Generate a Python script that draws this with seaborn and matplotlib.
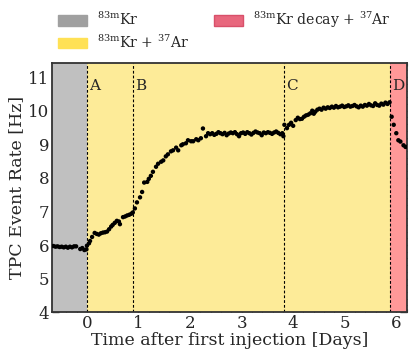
import numpy as np
import pandas as pd
import matplotlib
matplotlib.use("Agg")
import matplotlib.pyplot as plt
import matplotlib.patches as mpatches
import seaborn as sns

# event rate samples (days, Hz)
kr_only_days = [-0.65, -0.61, -0.57, -0.53, -0.49, -0.45, -0.41, -0.37, -0.33, -0.29,
                -0.25, -0.21, -0.13, -0.09, -0.05, -0.01]
kr_only_rate = [5.97, 5.95, 5.96, 5.94, 5.95, 5.93, 5.95, 5.92, 5.95, 5.93,
                5.96, 5.96, 5.88, 5.91, 5.85, 5.87]

ab_days = [0.00, 0.04, 0.06, 0.10, 0.15, 0.19, 0.23, 0.27, 0.31, 0.35, 0.39, 0.43,
           0.47, 0.50, 0.54, 0.58, 0.62, 0.64, 0.70, 0.74, 0.78, 0.82, 0.86]
ab_rate = [5.98, 6.05, 6.12, 6.24, 6.36, 6.33, 6.31, 6.35, 6.37, 6.38, 6.40, 6.47,
           6.55, 6.60, 6.66, 6.72, 6.70, 6.62, 6.83, 6.85, 6.88, 6.90, 6.93]

bc_days = [0.89, 0.93, 0.97, 1.03, 1.07, 1.11, 1.17, 1.20, 1.24, 1.28, 1.34, 1.38,
           1.44, 1.48, 1.53, 1.57, 1.63, 1.67, 1.73, 1.77, 1.83, 1.86, 1.92, 1.96,
           2.02, 2.06, 2.12, 2.16, 2.21, 2.25, 2.31, 2.35, 2.39, 2.43, 2.47, 2.51,
           2.55, 2.59, 2.63, 2.67, 2.71, 2.75, 2.79, 2.83, 2.87, 2.91, 2.95, 2.99,
           3.03, 3.07, 3.11, 3.15, 3.19, 3.23, 3.27, 3.31, 3.35, 3.39, 3.43, 3.47,
           3.51, 3.55, 3.59, 3.63, 3.67, 3.71, 3.75, 3.79]
bc_rate = [6.97, 7.09, 7.27, 7.42, 7.58, 7.86, 7.88, 7.97, 8.06, 8.18, 8.33, 8.42,
           8.48, 8.52, 8.64, 8.70, 8.79, 8.82, 8.90, 8.82, 8.97, 9.00, 9.03, 9.12,
           9.09, 9.09, 9.15, 9.12, 9.18, 9.47, 9.24, 9.33, 9.30, 9.33, 9.28, 9.31,
           9.36, 9.33, 9.30, 9.34, 9.27, 9.32, 9.35, 9.33, 9.36, 9.30, 9.24, 9.33,
           9.35, 9.31, 9.36, 9.33, 9.29, 9.34, 9.38, 9.35, 9.33, 9.27, 9.35, 9.33,
           9.36, 9.34, 9.31, 9.35, 9.38, 9.34, 9.30, 9.33]

cd_days = [3.81, 3.83, 3.88, 3.92, 3.96, 4.00, 4.05, 4.09, 4.13, 4.17, 4.21, 4.25,
           4.29, 4.33, 4.37, 4.40, 4.43, 4.47, 4.51, 4.55, 4.59, 4.63, 4.67, 4.71,
           4.75, 4.79, 4.83, 4.87, 4.91, 4.95, 4.99, 5.03, 5.07, 5.11, 5.15, 5.19,
           5.23, 5.27, 5.31, 5.35, 5.39, 5.43, 5.47, 5.51, 5.55, 5.59, 5.63, 5.67,
           5.71, 5.75, 5.79, 5.83, 5.87]
cd_rate = [9.24, 9.58, 9.48, 9.58, 9.64, 9.55, 9.72, 9.79, 9.75, 9.76, 9.82, 9.86,
           9.88, 9.92, 10.00, 9.91, 9.97, 10.03, 10.06, 10.03, 10.09, 10.06, 10.10, 10.08,
           10.12, 10.09, 10.14, 10.10, 10.12, 10.15, 10.11, 10.13, 10.16, 10.12, 10.14, 10.17,
           10.13, 10.10, 10.15, 10.12, 10.17, 10.15, 10.20, 10.16, 10.14, 10.22, 10.17, 10.15,
           10.21, 10.18, 10.24, 10.20, 10.25]

decay_days = [5.91, 5.95, 6.00, 6.04, 6.08, 6.14, 6.18]
decay_rate = [9.82, 9.58, 9.33, 9.12, 9.08, 8.97, 8.92]

# phase boundaries (injection times) and their labels
boundaries = [0.0, 0.89, 3.83, 5.88]
boundary_labels = ["A", "B", "C", "D"]

df = pd.DataFrame({
    "days": kr_only_days + ab_days + bc_days + cd_days + decay_days,
    "rate": kr_only_rate + ab_rate + bc_rate + cd_rate + decay_rate,
})

sns.set_style("ticks")
plt.rcParams["font.family"] = ["DejaVu Serif"]
plt.rcParams["mathtext.fontset"] = "dejavuserif"

fig = plt.figure(figsize=(4.15, 3.58), dpi=100)
ax = fig.add_axes([0.125, 0.128, 0.856, 0.696])

xmin, xmax = -0.68, 6.21
ax.axvspan(xmin, boundaries[0], color="#c0c0c0", lw=0)
ax.axvspan(boundaries[0], boundaries[3], color="#fdeb98", lw=0)
ax.axvspan(boundaries[3], xmax, color="#ff9898", lw=0)

for x, lab in zip(boundaries, boundary_labels):
    ax.axvline(x, color="black", ls="--", lw=0.8, dashes=(2.5, 1.8))
    ax.text(x + 0.04, 10.75, lab, fontsize=11, va="center", ha="left")

sns.scatterplot(data=df, x="days", y="rate", ax=ax, color="black", s=10,
                edgecolor="none", zorder=3)

ax.set_xlim(xmin, xmax)
ax.set_ylim(4, 11.42)
ax.set_xticks([0, 1, 2, 3, 4, 5, 6])
ax.set_yticks([4, 5, 6, 7, 8, 9, 10, 11])
ax.set_xlabel("Time after first injection [Days]", fontsize=12.5, labelpad=0)
ax.set_ylabel("TPC Event Rate [Hz]", fontsize=12.5, labelpad=2)
ax.minorticks_on()
ax.tick_params(which="both", direction="in", top=True, right=True, color="#333333")
ax.tick_params(which="major", length=5, width=1, labelsize=12, pad=2)
ax.tick_params(which="minor", length=2.5, width=0.8)
for sp in ax.spines.values():
    sp.set_linewidth(1.3)
    sp.set_color("#333333")

handles = [
    mpatches.Patch(facecolor="#a0a0a0", edgecolor="#a0a0a0", label=r"$^{\mathrm{83m}}$Kr"),
    mpatches.Patch(facecolor="#ffe155", edgecolor="#ffe155", label=r"$^{\mathrm{83m}}$Kr + $^{\mathrm{37}}$Ar"),
    mpatches.Patch(facecolor="#e8677d", edgecolor="#d8506a",
                   label=r"$^{\mathrm{83m}}$Kr decay + $^{\mathrm{37}}$Ar"),
]
fig.legend(handles=handles, loc="upper left", bbox_to_anchor=(0.14, 0.972), ncol=2,
           frameon=False, fontsize=10.1, handlelength=2.05, handleheight=0.75,
           handletextpad=0.75, columnspacing=1.75, labelspacing=0.35,
           borderpad=0, borderaxespad=0)

fig.savefig("out.png", dpi=100)
